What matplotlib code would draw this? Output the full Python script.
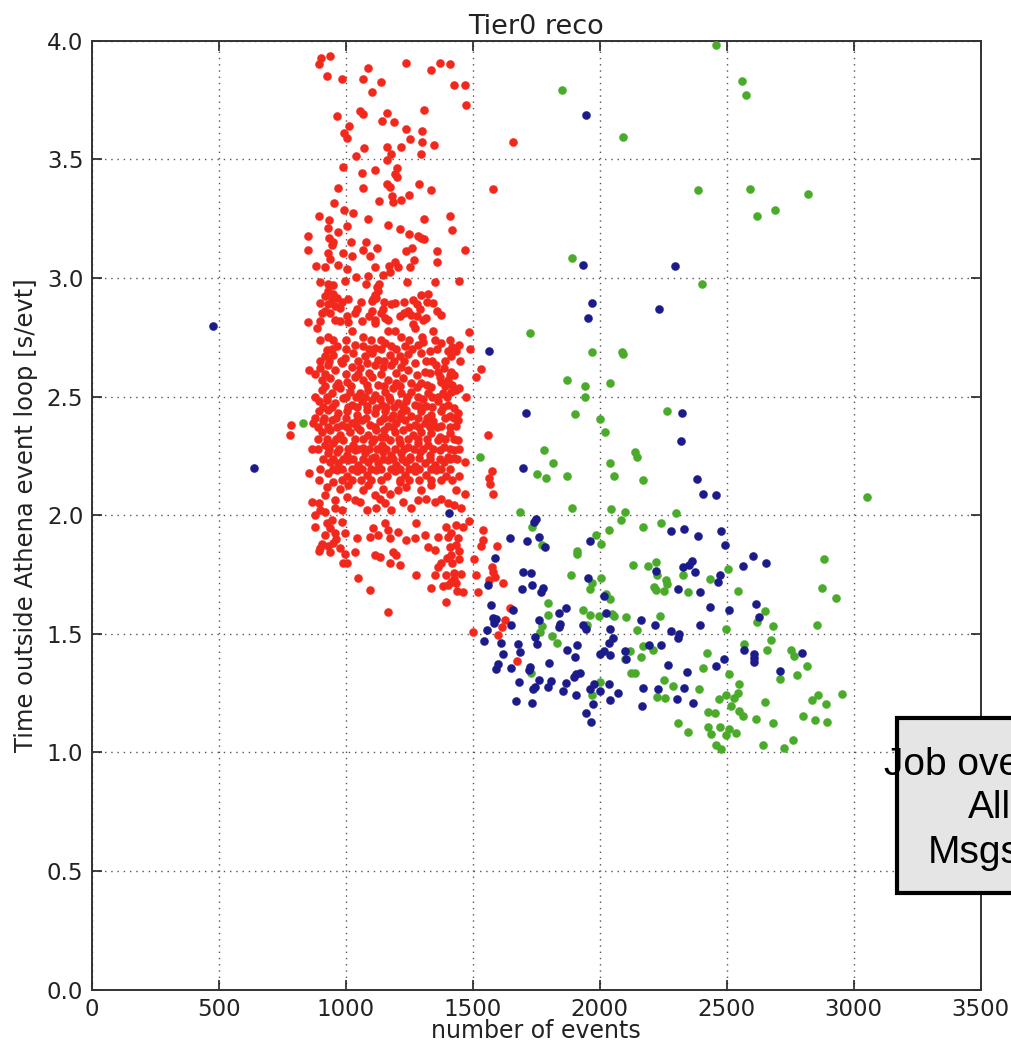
import matplotlib
matplotlib.use("Agg")
import matplotlib.pyplot as plt
from matplotlib.patches import Rectangle

# ---------------- data ----------------
red_pts = [
    (902,3.926),(939,3.936),(896,3.902),(926,3.853),(984,3.839),(1089,3.884),(1069,3.839),(1138,3.827),
    (1104,3.782),(1239,3.907),(1337,3.877),(1371,3.907),(1411,3.902),(1428,3.813),(1470,3.813),(1475,3.728),
    (1307,3.708),(965,3.684),(1056,3.704),(1069,3.691),(1163,3.697),(1144,3.663),(1191,3.659),(1013,3.641),
    (993,3.610),(1005,3.589),(1239,3.628),(1302,3.621),(1255,3.584),(1302,3.572),(1347,3.559),(1074,3.546),
    (1163,3.553),(1219,3.553),(1180,3.522),(1295,3.522),(1040,3.515),(1162,3.497),(990,3.466),(1064,3.441),
    (1115,3.455),(1202,3.462),(1193,3.438),(1202,3.424),(971,3.381),(1069,3.381),(1163,3.396),(1173,3.385),
    (1289,3.396),(1334,3.371),
    (953,3.316),(995,3.288),(1030,3.274),(894,3.261),(936,3.243),(929,3.211),(1004,3.218),(971,3.194),
    (850,3.176),(936,3.169),(952,3.152),(945,3.140),(850,3.119),(929,3.105),(938,3.081),(989,3.105),
    (1020,3.152),(1023,3.094),(1086,3.250),(1132,3.325),(1183,3.344),(1185,3.320),(1219,3.330),(1249,3.348),
    (1167,3.225),(1214,3.207),(1249,3.187),(1307,3.250),(1412,3.261),(1417,3.201),(1284,3.176),(1297,3.169),
    (1307,3.164),(1080,3.150),(1069,3.119),(1122,3.126),(1096,3.094),(1239,3.112),(1262,3.126),(1268,3.077),
    (1360,3.112),(1359,3.067),(1470,3.119),(885,3.051),(919,3.045),(971,3.053),(1004,3.039),(1115,3.045),
    (1171,3.052),(1195,3.067),(1205,3.045),(1175,3.025),(1255,3.045),(1145,3.014),(1040,3.003),(1089,3.007),
    (898,2.983),(929,2.975),(952,2.972),(998,2.986),(1080,2.975),(1132,2.976),(1124,2.961),(1243,2.982),
    (1350,2.982),(1445,2.986),
    (932,2.944),(952,2.933),(919,2.923),(945,2.909),(965,2.916),(899,2.895),(932,2.888),(958,2.881),
    (919,2.860),(978,2.874),(1010,2.913),(1043,2.868),(1102,2.902),(1115,2.927),(1128,2.944),(1121,2.916),
    (1108,2.909),(1180,2.890),(1193,2.895),(1145,2.867),(1102,2.862),(1265,2.906),(1295,2.926),(1324,2.933),
    (1343,2.895),(1294,2.867),(1246,2.860),(1259,2.845),(1213,2.838),(1154,2.831),(1167,2.824),(1115,2.822),
    (1115,2.810),(1063,2.817),(1004,2.841),(1008,2.815),(978,2.817),(958,2.824),(851,2.815),(897,2.820),
    (886,2.789),(1317,2.831),(1304,2.824),(1376,2.845),(1343,2.775),(1487,2.771),(1024,2.775),(1167,2.775),
    (1193,2.775),(1265,2.806),(1272,2.789),
    (932,2.753),(1069,2.753),(1219,2.753),
    (926,2.697),(965,2.711),(1037,2.718),(1069,2.711),(1115,2.704),(1154,2.725),(1180,2.714),(1232,2.711),
    (1285,2.718),(1304,2.728),(1330,2.690),(1402,2.690),(1448,2.718),(1376,2.725),
    (919,2.669),(952,2.676),(997,2.662),(1030,2.683),(1076,2.669),(1102,2.683),(1128,2.655),(1174,2.676),
    (1213,2.669),(1246,2.680),(1298,2.683),(1272,2.643),(1317,2.648),(1357,2.633),(1415,2.669),(1435,2.690),
    (854,2.612),(899,2.619),(932,2.633),(958,2.612),(984,2.641),(1024,2.626),(1056,2.619),(1082,2.641),
    (1115,2.633),(1148,2.626),(1180,2.633),(1219,2.626),(1246,2.612),(1311,2.605),(1363,2.605),(1389,2.619),
    (1415,2.605),(1428,2.591),(1370,2.584),
    (906,2.570),(939,2.577),(971,2.556),(1004,2.563),(1037,2.584),(1069,2.570),(1102,2.584),(1128,2.549),
    (1167,2.570),(1200,2.556),(1226,2.577),(1259,2.559),(1298,2.556),(1337,2.542),(1376,2.563),(1402,2.570),
    (1435,2.528),(1448,2.535),
    (906,2.528),(945,2.514),(978,2.535),(1017,2.521),(1056,2.514),(1089,2.528),(1115,2.507),(1154,2.521),
    (1187,2.535),(1219,2.514),(1259,2.521),(1285,2.500),(1324,2.514),(1383,2.514),(1415,2.521),(1474,2.500),
    (1363,2.500),
    (893,2.479),(926,2.486),(958,2.472),(991,2.493),(1024,2.465),(1063,2.479),(1102,2.486),(1141,2.465),
    (1174,2.486),(1206,2.472),(1239,2.479),(1272,2.465),(1317,2.458),(1363,2.479),(1402,2.465),(1239,2.444),
    (893,2.437),(932,2.444),(971,2.430),(1004,2.437),(1043,2.423),(1082,2.444),(1115,2.430),(1154,2.437),
    (1187,2.423),(1219,2.430),(1259,2.416),(1298,2.437),(1337,2.423),(1376,2.437),(1409,2.416),(1441,2.430),
    (873,2.388),(912,2.395),(945,2.402),(984,2.381),(1024,2.388),(1063,2.402),(1095,2.381),(1135,2.395),
    (1167,2.374),(1200,2.388),(1232,2.402),(1272,2.381),(1311,2.388),(1343,2.395),(1376,2.374),(1435,2.374),
    (1441,2.402),
    (906,2.352),(939,2.360),(978,2.338),(1017,2.352),(1056,2.360),(1089,2.338),(1121,2.360),(1154,2.331),
    (1193,2.352),(1226,2.360),(1265,2.338),(1298,2.352),(1337,2.345),(1370,2.331),(1409,2.345),(1441,2.317),
    (867,2.278),
    (919,2.296),(952,2.303),(991,2.317),(1030,2.296),(1069,2.282),(1102,2.310),(1141,2.296),(1174,2.317),
    (1213,2.303),(1246,2.289),(1285,2.303),(1324,2.296),(1363,2.317),(1389,2.289),(1428,2.275),
    (932,2.261),(965,2.268),(1004,2.254),(1037,2.275),(1076,2.261),(1115,2.247),(1148,2.268),(1180,2.254),
    (1219,2.261),(1252,2.247),(1291,2.268),(1330,2.254),(1370,2.275),(1402,2.247),(1468,2.226),(1428,2.240),
    (939,2.226),(971,2.219),(1010,2.233),(1050,2.212),(1089,2.226),(1128,2.219),(1167,2.233),(1200,2.212),
    (1239,2.226),(1272,2.205),(1311,2.219),(1350,2.212),(1389,2.226),
    (854,2.177),(932,2.177),(965,2.191),(1004,2.163),(1043,2.184),(1082,2.170),(1121,2.191),(1161,2.163),
    (1193,2.184),(1232,2.170),(1272,2.184),(1317,2.170),(1357,2.191),(1396,2.163),(1448,2.163),
    (786,2.381),(782,2.338),
    (867,2.056),(893,2.049),(919,2.084),(926,2.119),(952,2.141),(978,2.112),(1010,2.126),(1069,2.105),
    (1089,2.126),(1115,2.084),(1135,2.070),(1154,2.049),(1148,2.112),(1174,2.091),(1206,2.105),(1213,2.141),
    (1239,2.119),(1285,2.063),(1317,2.070),(1259,2.028),(1226,2.056),(1180,2.021),(1121,2.028),(1082,2.021),
    (1037,2.063),(1004,2.077),(958,2.028),(919,2.014),(880,2.000),(984,2.021),(1350,2.056),(1376,2.070),
    (1402,2.049),(1428,2.042),(1435,2.105),(1468,2.091),(1056,2.056),(958,2.063),(1298,2.105),(1337,2.126),
    (926,1.965),(939,1.944),(919,1.916),(958,1.923),(952,1.881),(939,1.845),(978,1.860),(997,1.838),
    (991,1.796),(1004,1.796),(1037,1.845),(893,1.848),(997,1.923),(1043,1.902),(1095,1.909),(1108,1.944),
    (1128,1.916),(1154,1.965),(1167,1.937),(1174,1.902),(1206,1.930),(1187,1.845),(1200,1.831),(1174,1.800),
    (1213,1.789),(1115,1.831),(1135,1.824),(1239,1.895),(1272,1.902),(1278,1.965),(1311,1.916),(1324,1.867),
    (1350,1.852),(1363,1.909),(1396,1.951),(1402,1.909),(1415,1.923),(1435,1.958),(1441,1.902),(1409,1.867),
    (1415,1.831),(1435,1.874),(1448,1.817),(1376,1.796),(1363,1.782),(1396,1.747),(1350,1.747),(1428,1.754),
    (1415,1.719),(1435,1.712),(1402,1.705),(1337,1.691),(1461,1.677),(1396,1.635),(1278,1.747),(1047,1.733),
    (1095,1.684),(1165,1.593),(1487,1.975),(1507,1.817),(1513,1.747),(1522,1.677),(1533,1.869),(1539,1.937),
    (1657,3.575),(1581,3.375),(1490,2.700),(1531,2.617),(1512,2.581),(1559,2.337),(1575,2.188),(1566,2.155),
    (1568,2.130),(1581,2.091),(1542,1.895),(1594,1.868),(1575,1.780),(1581,1.759),(1588,1.738),(1565,1.727),
    (1620,1.713),(1647,1.608),(1627,1.556),(1614,1.528),(1601,1.493),(1500,1.506),(1675,1.384),
    # overlapping dots filling the dense core
    (985,2.90),(1060,2.90),(1150,2.90),(1230,2.90),(1280,2.89),(1320,2.90),
    (905,2.85),(940,2.85),(1035,2.85),(1090,2.84),(1140,2.85),(1230,2.85),(1280,2.84),(1360,2.86),
    (900,2.74),(950,2.74),(1000,2.74),(1100,2.74),(1140,2.74),(1250,2.74),(1300,2.75),(1350,2.74),(1410,2.74),
    (945,2.70),(1000,2.70),(1090,2.70),(1140,2.70),(1200,2.70),(1260,2.70),(1360,2.70),(1420,2.71),
    (900,2.65),(935,2.65),(980,2.65),(1050,2.65),(1150,2.65),(1190,2.65),(1230,2.65),(1340,2.65),(1390,2.65),(1450,2.65),
    (880,2.595),(920,2.595),(1000,2.595),(1050,2.595),(1090,2.60),(1140,2.595),(1200,2.60),(1280,2.59),(1330,2.60),(1410,2.59),
    (920,2.545),(960,2.545),(1020,2.545),(1085,2.55),(1150,2.545),(1215,2.545),(1280,2.54),(1320,2.55),(1390,2.545),(1420,2.55),
    (880,2.50),(925,2.50),(1000,2.50),(1040,2.50),(1075,2.50),(1135,2.49),(1170,2.50),(1240,2.50),(1305,2.49),(1340,2.50),(1400,2.50),
    (910,2.455),(945,2.455),(1010,2.455),(1045,2.455),(1085,2.46),(1120,2.45),(1160,2.455),(1190,2.455),(1225,2.455),(1290,2.46),(1340,2.455),(1385,2.455),(1425,2.45),
    (880,2.41),(915,2.41),(960,2.41),(1000,2.41),(1045,2.40),(1080,2.41),(1150,2.41),(1180,2.41),(1215,2.41),(1285,2.41),(1320,2.41),(1390,2.41),(1425,2.41),
    (890,2.37),(930,2.37),(965,2.37),(1005,2.37),(1045,2.37),(1115,2.37),(1150,2.36),(1185,2.37),(1250,2.37),(1290,2.37),(1330,2.37),(1360,2.37),(1410,2.37),
    (890,2.32),(925,2.32),(960,2.32),(1035,2.32),(1070,2.32),(1110,2.32),(1140,2.33),(1210,2.32),(1245,2.32),(1285,2.32),(1320,2.32),(1390,2.32),(1425,2.32),
    (890,2.28),(935,2.28),(975,2.28),(1010,2.28),(1050,2.28),(1090,2.28),(1125,2.28),(1160,2.28),(1195,2.28),(1230,2.28),(1270,2.28),(1305,2.28),(1345,2.28),(1410,2.28),(1445,2.28),
    (910,2.235),(950,2.235),(990,2.235),(1030,2.235),(1070,2.235),(1105,2.24),(1145,2.235),(1185,2.235),(1220,2.235),(1255,2.235),(1290,2.24),(1330,2.235),(1370,2.235),(1410,2.235),(1440,2.235),
    (900,2.195),(950,2.195),(985,2.195),(1025,2.195),(1065,2.195),(1100,2.195),(1140,2.195),(1180,2.195),(1215,2.195),(1250,2.195),(1290,2.195),(1335,2.195),(1375,2.195),(1410,2.195),
    (895,2.15),(985,2.15),(1025,2.15),(1060,2.15),(1100,2.15),(1140,2.15),(1215,2.15),(1250,2.15),(1290,2.15),(1335,2.15),(1375,2.15),(1420,2.15),
    (880,1.95),(905,1.88),(900,2.02),(945,1.98),(960,1.90),(985,1.97),(900,1.86),(930,1.87),
    (1420,1.80),(1445,1.85),(1455,1.75),(1440,1.68),(1425,1.73),(1400,1.82),(1385,1.70),(1460,1.95),(1455,2.03),
]

green_pts = [
    (832,2.388),(1850,3.793),(2092,3.594),(2458,3.980),(2560,3.832),(2578,3.770),(2590,3.373),(2619,3.261),
    (2689,3.286),(2819,3.354),(3052,2.076),(2389,3.369),(1890,3.082),(2401,2.975),(1726,2.769),(1971,2.688),
    (2088,2.688),(2092,2.681),(1872,2.569),(1942,2.544),(1941,2.500),(2041,2.557),(1901,2.426),(2000,2.406),
    (2022,2.350),(2267,2.438),(1780,2.275),(1815,2.219),(1530,2.244),(1755,2.175),(1787,2.158),(1872,2.164),
    (2041,2.219),(2056,2.164),(2140,2.264),(2147,2.244),(2169,2.148),
    (1686,2.014),(1890,2.029),(2046,2.025),(2098,2.015),(2082,1.980),(2035,1.938),(1987,1.917),(2007,1.878),
    (1912,1.850),(1912,1.836),(1732,1.948),(1771,1.874),(2170,1.948),(2242,1.966),(2301,2.008),(2131,1.790),
    (2190,1.787),(2220,1.801),(2225,1.749),(2260,1.727),(2266,1.710),(2215,1.696),(2222,1.685),(2255,1.678),
    (2347,1.675),(2327,1.748),(2435,1.730),(2504,1.773),(2543,1.682),(1889,1.748),(1961,1.689),(1971,1.713),
    (2007,1.735),(2026,1.668),(2039,1.647),(2050,1.581),(2055,1.573),(1797,1.630),(1797,1.580),(1935,1.601),
    (1963,1.580),(1998,1.574),(2105,1.570),(2147,1.514),(2238,1.574),(1771,1.532),(1764,1.507),(1814,1.490),
    (1832,1.462),(1950,1.538),(2497,1.518),(2619,1.549),(2569,1.458),(2170,1.448),(2210,1.430),(2164,1.402),
    (2118,1.427),(2098,1.392),(2421,1.420),(2406,1.357),(2511,1.332),(2550,1.290),(2543,1.252),(2530,1.227),
    (2497,1.241),(2468,1.224),(2517,1.196),(2547,1.175),(2563,1.153),(2615,1.139),(2124,1.335),(2141,1.335),
    (2000,1.297),(1728,1.336),(1971,1.241),(2252,1.304),(2288,1.280),(2225,1.234),(2258,1.231),(2390,1.265),
    (2427,1.168),(2453,1.164),(2308,1.122),(2347,1.084),(2427,1.105),(2473,1.105),(2440,1.076),(2497,1.073),
    (2511,1.097),(2537,1.080),
    (2884,1.817),(2877,1.693),(2930,1.651),(2855,1.538),(2650,1.594),(2683,1.531),(2676,1.475),(2659,1.433),
    (2754,1.430),(2767,1.406),(2817,1.364),(2778,1.327),(2708,1.307),(2650,1.214),(2683,1.123),(2725,1.019),
    (2762,1.052),(2802,1.151),(2848,1.138),(2894,1.127),(2835,1.219),(2860,1.240),(2890,1.202),(2954,1.247),
    (2643,1.031),(2458,1.031),(2478,1.014),
]

blue_pts = [
    (478,2.797),(639,2.199),(1405,2.011),(1948,3.687),(1936,3.056),(2296,3.049),(1971,2.893),(2232,2.869),
    (1954,2.831),(1565,2.693),(1709,2.431),(2325,2.431),(2319,2.313),(1698,2.200),(2382,2.151),
    (2406,2.091),(2458,2.084),(1749,1.983),(1741,1.969),(1647,1.903),(1712,1.892),(1762,1.906),(1784,1.867),
    (1961,1.892),(2279,1.934),(2331,1.940),(2389,1.910),(2478,1.934),(2495,1.874),(1588,1.818),(1699,1.762),
    (1728,1.755),(1696,1.688),(1733,1.706),(1777,1.693),(1768,1.674),(1562,1.707),(1954,1.735),(2223,1.766),
    (2329,1.783),(2364,1.805),(2351,1.790),(2376,1.762),(2472,1.749),(2465,1.717),(2563,1.787),(2602,1.829),
    (2308,1.688),(2396,1.675),(2016,1.661),(2024,1.587),(1571,1.619),(1657,1.598),(1579,1.567),(1590,1.560),
    (1584,1.546),(1651,1.538),(1558,1.514),(1546,1.468),(1611,1.461),(1760,1.559),(1744,1.486),(1754,1.458),
    (1840,1.588),(1867,1.608),(1839,1.528),(1843,1.542),(1935,1.535),(1946,1.521),(2042,1.521),(2052,1.483),
    (2037,1.462),(2164,1.556),(2216,1.538),(2279,1.511),(2314,1.500),(2310,1.483),(2396,1.538),(2435,1.612),
    (2511,1.601),(2615,1.626),(2628,1.570),(2196,1.451),(2243,1.451),(2270,1.370),(2345,1.339),(2458,1.363),
    (2488,1.395),(2569,1.430),(2608,1.416),(2608,1.398),(2608,1.381),(1679,1.458),(1686,1.423),(1620,1.413),
    (1601,1.374),(1591,1.353),(1651,1.357),(1725,1.360),(1722,1.346),(1801,1.377),(1872,1.433),(1902,1.402),
    (1911,1.451),(2000,1.413),(2016,1.427),(2042,1.409),(2098,1.427),(2104,1.395),(1906,1.332),(1921,1.335),
    (1898,1.318),(1682,1.297),(1760,1.304),(1744,1.276),(1737,1.265),(1797,1.276),(1810,1.300),(1866,1.293),
    (1856,1.259),(1906,1.241),(1962,1.265),(1977,1.286),(2000,1.259),(2035,1.290),(2072,1.248),(2042,1.220),
    (2170,1.273),(2229,1.266),(2304,1.223),(2331,1.273),(2366,1.209),(2168,1.196),(1670,1.216),(1732,1.209),
    (1948,1.164),(1965,1.129),(1972,1.203),
    (2655,1.800),(2795,1.418),(2708,1.344),
]

x_ticks = [0, 500, 1000, 1500, 2000, 2500, 3000, 3500]
y_ticks = [0.0, 0.5, 1.0, 1.5, 2.0, 2.5, 3.0, 3.5, 4.0]
title_text = "Tier0 reco"
x_label = "number of events"
y_label = "Time outside Athena event loop [s/evt]"
box_lines = ["Job overhead", "All", "Msgs"]

RED = "#f3281d"
GREEN = "#4aab2b"
BLUE = "#1b1b8c"

# ---------------- figure ----------------
fig = plt.figure(figsize=(10.11, 10.44), dpi=100)
ax = fig.add_axes([0.0907, 0.0522, 0.8793, 0.9088])

for pts, col in ((red_pts, RED), (green_pts, GREEN), (blue_pts, BLUE)):
    xs = [p[0] for p in pts]
    ys = [p[1] for p in pts]
    ax.scatter(xs, ys, s=34, c=col, edgecolors=col, linewidths=0.3, zorder=3)

ax.set_xlim(0, 3500)
ax.set_ylim(0.0, 4.0)
ax.set_xticks(x_ticks)
ax.set_yticks(y_ticks)
ax.set_xticklabels([str(t) for t in x_ticks])
ax.set_yticklabels([f"{t:.1f}" for t in y_ticks])
ax.tick_params(direction="in", length=7, width=1.2, top=True, right=True,
               labelsize=16.5, colors="#222222", pad=6)
ax.grid(True, color="#555555", linestyle=(0, (1, 3.5)), linewidth=1.0)
ax.set_axisbelow(True)
for sp in ax.spines.values():
    sp.set_linewidth(1.4)
    sp.set_color("#333333")

ax.set_title(title_text, fontsize=19.5, pad=5, color="#222222")
ax.set_xlabel(x_label, fontsize=17, labelpad=-1, color="#222222")
ax.set_ylabel(y_label, fontsize=17.5, labelpad=6, color="#222222")

# overlay box (partly off the right edge of the figure, as in the reference)
fig.patches.append(Rectangle((897 / 1011, 1 - 893 / 1044), 0.3, (893 - 718) / 1044,
                             transform=fig.transFigure, facecolor="#e5e5e5",
                             edgecolor="black", linewidth=3, zorder=5))
for txt, px, py in zip(box_lines, [884, 968, 928], [775, 818, 863]):
    fig.text(px / 1011, 1 - py / 1044, txt, fontsize=28, family="Liberation Sans",
             ha="left", va="baseline", color="black", zorder=6)

fig.savefig("out.png", dpi=100)
